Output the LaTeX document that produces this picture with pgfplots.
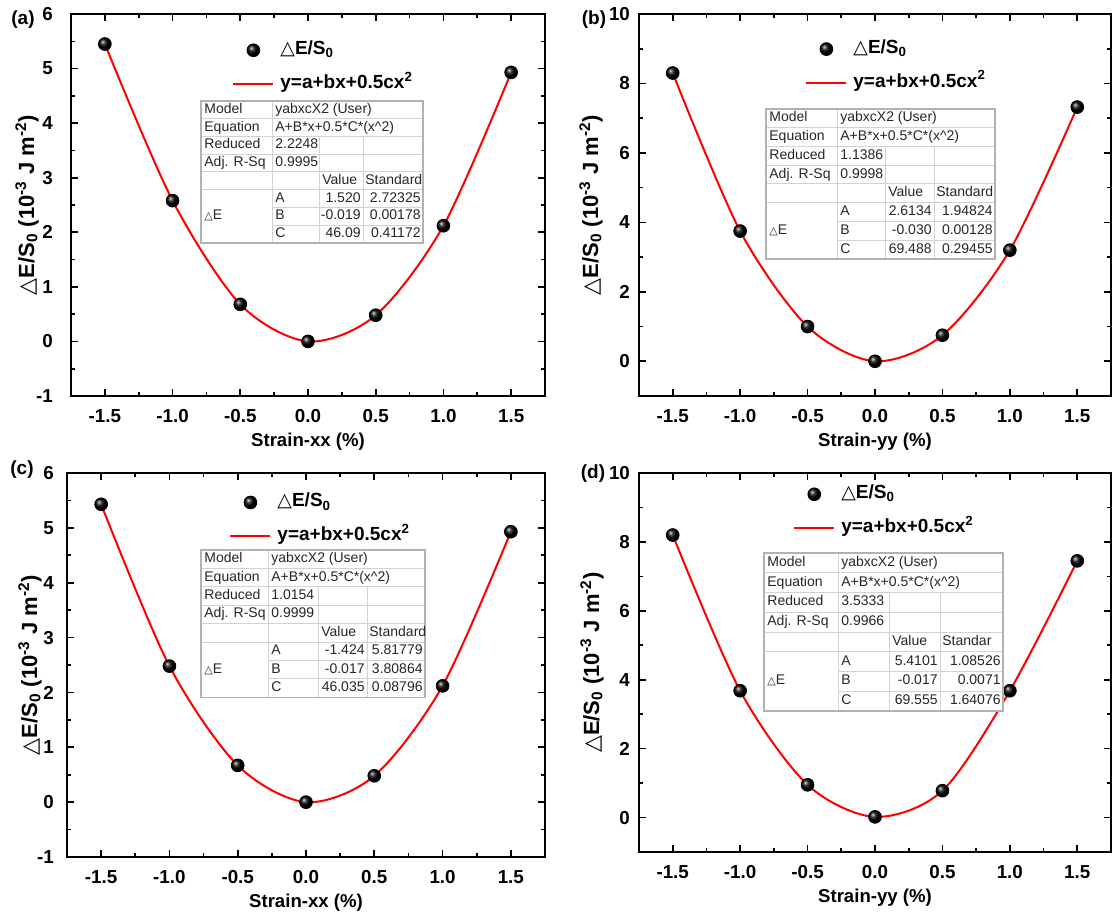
\documentclass[border=0pt]{standalone}
\usepackage{fontspec}
\setmainfont{Liberation Sans}
\newfontfamily\dejavu{DejaVu Sans}
\usepackage{pgfplots}
\usepackage{pgfplotstable}
\pgfplotsset{compat=1.18}
\usetikzlibrary{plotmarks}

\pgfplotstableread{
x y
-1.5 5.45
-1.0 2.58
-0.5 0.68
0.0 0.00
0.5 0.48
1.0 2.12
1.5 4.93
}\dataA
\pgfplotstableread{
x y
-1.5 8.30
-1.0 3.75
-0.5 1.00
0.0 0.00
0.5 0.75
1.0 3.20
1.5 7.32
}\dataB
\pgfplotstableread{
x y
-1.5 5.43
-1.0 2.48
-0.5 0.67
0.0 0.00
0.5 0.48
1.0 2.12
1.5 4.93
}\dataC
\pgfplotstableread{
x y
-1.5 8.20
-1.0 3.68
-0.5 0.95
0.0 0.02
0.5 0.78
1.0 3.68
1.5 7.45
}\dataD

\pgfplotsset{
  panel/.style={
    scale only axis,
    xmin=-1.75, xmax=1.75,
    xtick={-1.5,-1,-0.5,0,0.5,1,1.5},
    minor x tick num=1,
    minor y tick num=1,
    tick align=inside,
    major tick length=3.5pt,
    minor tick length=2pt,
    every tick/.style={black, line width=0.8pt},
    axis line style={line width=1pt},
    /pgf/number format/assume math mode=true,
    xticklabel style={font=\bfseries\fontsize{9.4}{10}\selectfont, yshift=-3pt, /pgf/number format/.cd, fixed, fixed zerofill, precision=1, /tikz/.cd},
    yticklabel style={font=\bfseries\fontsize{9.4}{10}\selectfont},
    every axis x label/.style={at={(rel axis cs:0.5,0)}, yshift=-23pt, anchor=center, font=\bfseries\fontsize{9.3}{11}\selectfont},
    ylabel={{\mdseries\dejavu △}E/S\textsubscript{0} (10\textsuperscript{-3} J m\textsuperscript{-2})},
    legend style={draw=none, fill=none, inner sep=0pt, anchor=north west,
      font=\bfseries\fontsize{9.5}{11}\selectfont, row sep=7.5pt,
      nodes={inner sep=0pt, text height=7pt, text depth=2.5pt},
      /tikz/every odd column/.append style={column sep=3pt}},
    legend cell align=left,
  },
  ylab/.style={every axis y label/.style={at={(rel axis cs:0,0.5)}, xshift=-#1, rotate=90, anchor=center, font=\bfseries\fontsize{11}{13}\selectfont}},
  fitline/.style={red, line width=1pt, smooth, no marks,
    legend image code/.code={\draw[red, line width=1pt] (0pt,0.3pt) -- (20pt,0.3pt);}},
  balls/.style={only marks, mark=ball, mark size=3.2pt, mark options={ball color=black},
    legend image code/.code={\path[draw=none] (0pt,0pt) -- (20pt,0pt); \draw[##1, draw=none] plot coordinates {(10pt,0pt)};}},
}

\tikzset{tabtext/.style={font=\fontsize{7}{8}\selectfont, inner sep=0pt, text height=5pt, text depth=1.5pt, text=black!85}}

\newcommand{\tgeom}[7]{\def\tL{#1}\def\tA{#2}\def\tB{#3}\def\tC{#4}\def\tR{#5}\def\tT{#6}\def\tH{#7}}
\newcommand{\stattable}[9]{%
  \fill[white] (\tL,\tT) rectangle (\tR,{\tT+8*\tH});
  \foreach \k in {1,2,3,4,5}{\draw[gray!35, line width=0.5pt] (\tL,{\tT+\k*\tH}) -- (\tR,{\tT+\k*\tH});}
  \foreach \k in {6,7}{\draw[gray!35, line width=0.5pt] (\tA,{\tT+\k*\tH}) -- (\tR,{\tT+\k*\tH});}
  \draw[gray!35, line width=0.5pt] (\tA,\tT) -- (\tA,{\tT+8*\tH});
  \draw[gray!35, line width=0.5pt] (\tB,{\tT+2*\tH}) -- (\tB,{\tT+8*\tH});
  \draw[gray!35, line width=0.5pt] (\tC,{\tT+2*\tH}) -- (\tC,{\tT+8*\tH});
  \draw[gray!60, line width=0.6pt] (\tL,\tT) rectangle (\tR,{\tT+8*\tH});
  \node[tabtext, anchor=west] at ({\tL+3},{\tT+0.5*\tH}) {Model};
  \node[tabtext, anchor=west] at ({\tL+3},{\tT+1.5*\tH}) {Equation};
  \node[tabtext, anchor=west] at ({\tL+3},{\tT+2.5*\tH}) {Reduced};
  \node[tabtext, anchor=west] at ({\tL+3},{\tT+3.5*\tH}) {Adj. R-Sq};
  \node[tabtext, anchor=west] at ({\tL+3},{\tT+6.5*\tH}) {{\dejavu\fontsize{5.5}{6}\selectfont △}E};
  \node[tabtext, anchor=west] at ({\tA+3},{\tT+0.5*\tH}) {yabxcX2 (User)};
  \node[tabtext, anchor=west] at ({\tA+3},{\tT+1.5*\tH}) {A+B*x+0.5*C*(x\textasciicircum 2)};
  \node[tabtext, anchor=west] at ({\tA+3},{\tT+2.5*\tH}) {#1};
  \node[tabtext, anchor=west] at ({\tA+3},{\tT+3.5*\tH}) {#2};
  \node[tabtext, anchor=west] at ({\tA+3},{\tT+5.5*\tH}) {A};
  \node[tabtext, anchor=west] at ({\tA+3},{\tT+6.5*\tH}) {B};
  \node[tabtext, anchor=west] at ({\tA+3},{\tT+7.5*\tH}) {C};
  \node[tabtext, anchor=west] at ({\tB+3},{\tT+4.5*\tH}) {Value};
  \node[tabtext, anchor=west] at ({\tC+2},{\tT+4.5*\tH}) {#9};
  \node[tabtext, anchor=east] at ({\tC-2},{\tT+5.5*\tH}) {#3};
  \node[tabtext, anchor=east] at ({\tR-2},{\tT+5.5*\tH}) {#4};
  \node[tabtext, anchor=east] at ({\tC-2},{\tT+6.5*\tH}) {#5};
  \node[tabtext, anchor=east] at ({\tR-2},{\tT+6.5*\tH}) {#6};
  \node[tabtext, anchor=east] at ({\tC-2},{\tT+7.5*\tH}) {#7};
  \node[tabtext, anchor=east] at ({\tR-2},{\tT+7.5*\tH}) {#8};
}

\newcommand{\panelplots}[1]{%
  \addlegendimage{balls}
  \addlegendentry{{\mdseries\dejavu △}E/S\textsubscript{0}}
  \addlegendimage{fitline}
  \addlegendentry{y=a+bx+0.5cx\textsuperscript{2}}
  \addplot[fitline, forget plot] table[x=x,y=y] {#1};
  \addplot[balls, forget plot] table[x=x,y=y] {#1};
}

\begin{document}
\begin{tikzpicture}
\path[use as bounding box] (0pt,0pt) rectangle (557.5pt,456pt);

% (a)
\begin{axis}[panel, ylab=22pt, at={(35.5pt,258pt)}, anchor=south west, width=237pt, height=191pt,
  ymin=-1, ymax=6, ytick={-1,0,...,6}, yticklabel style={xshift=-5.5pt},
  xlabel={Strain-xx (\%)},
  legend style={at={(0.3397,0.931)}}]
\panelplots{\dataA}
\end{axis}

% (b)
\begin{axis}[panel, ylab=24pt, at={(319.5pt,258pt)}, anchor=south west, width=236pt, height=191pt,
  ymin=-1, ymax=10, ytick={0,2,...,10}, yticklabel style={xshift=-1pt},
  xlabel={Strain-yy (\%)},
  legend style={at={(0.3517,0.934)}}]
\panelplots{\dataB}
\end{axis}

% (c)
\begin{axis}[panel, ylab=18.5pt, at={(33.5pt,27.5pt)}, anchor=south west, width=239pt, height=192pt,
  ymin=-1, ymax=6, ytick={-1,0,...,6}, yticklabel style={xshift=-3pt},
  xlabel={Strain-xx (\%)},
  legend style={at={(0.339,0.949)}}]
\panelplots{\dataC}
\end{axis}

% (d)
\begin{axis}[panel, ylab=23.5pt, at={(319.5pt,30pt)}, anchor=south west, width=236pt, height=189.5pt,
  ymin=-1, ymax=10, ytick={0,2,...,10}, yticklabel style={xshift=-1pt},
  xlabel={Strain-yy (\%)},
  legend style={at={(0.326,0.970)}}]
\panelplots{\dataD}
\end{axis}

\begin{scope}[x=0.5pt, y=-0.5pt, shift={(0pt,456pt)}]
  \tgeom{201}{272}{319}{363}{423}{101}{17.75}
  \stattable{2.2248}{0.9995}{1.520}{2.72325}{-0.019}{0.00178}{46.09}{0.41172}{Standard}
  \tgeom{766}{837}{885}{934}{995}{109}{18.75}
  \stattable{1.1386}{0.9998}{2.6134}{1.94824}{-0.030}{0.00128}{69.488}{0.29455}{Standard}
  \tgeom{201}{268}{318}{367}{425}{550}{18.4}
  \stattable{1.0154}{0.9999}{-1.424}{5.81779}{-0.017}{3.80864}{46.035}{0.08796}{Standard}
  \tgeom{764}{838}{889}{940}{1003}{553}{19.75}
  \stattable{3.5333}{0.9966}{5.4101}{1.08526}{-0.017}{0.0071}{69.555}{1.64076}{Standar}
  \node[font=\bfseries\fontsize{9.5}{11}\selectfont] at (23,20) {(a)};
  \node[font=\bfseries\fontsize{9.5}{11}\selectfont] at (594,20) {(b)};
  \node[font=\bfseries\fontsize{9.5}{11}\selectfont] at (22,470) {(c)};
  \node[font=\bfseries\fontsize{9.5}{11}\selectfont] at (593,474) {(d)};
\end{scope}
\end{tikzpicture}
\end{document}
